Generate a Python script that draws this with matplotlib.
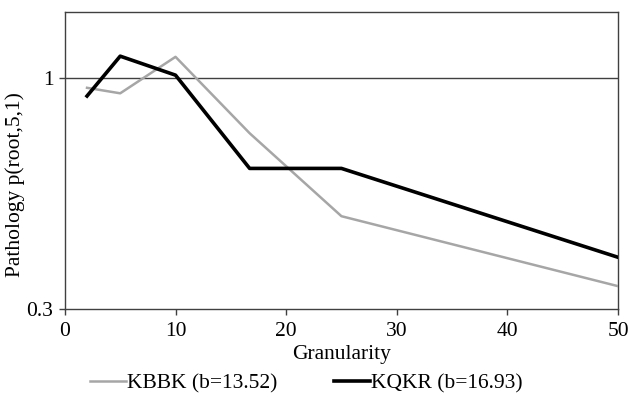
import matplotlib
matplotlib.use("Agg")
import matplotlib.pyplot as plt
from matplotlib.ticker import FixedLocator, NullLocator

plt.rcParams['font.family'] = ['Liberation Serif', 'DejaVu Serif']

granularity_kbbk = [2, 5, 10, 16.7, 25, 50]
kbbk = [0.952, 0.925, 1.119, 0.751, 0.487, 0.338]
granularity_kqkr = [2, 5, 10, 16.7, 25, 50]
kqkr = [0.912, 1.123, 1.017, 0.625, 0.625, 0.393]
x_ticks = [0, 10, 20, 30, 40, 50]
y_ticks = [0.3, 1]
y_tick_labels = ["0.3", "1"]

fig = plt.figure(figsize=(6.3, 4.05), dpi=100)
ax = fig.add_axes([0.103, 0.237, 0.878, 0.734])

ax.axhline(1, color='#404040', lw=1.0, zorder=1)
ax.plot(granularity_kbbk, kbbk, color='#a6a6a6', lw=1.8, label='KBBK (b=13.52)', zorder=3)
ax.plot(granularity_kqkr, kqkr, color='black', lw=2.6, label='KQKR (b=16.93)', zorder=4)

ax.set_yscale('log')
ax.set_ylim(0.3, 1.416)
ax.set_xlim(0, 50)
ax.yaxis.set_major_locator(FixedLocator(y_ticks))
ax.set_yticklabels(y_tick_labels)
ax.yaxis.set_minor_locator(NullLocator())
ax.set_xticks(x_ticks)

for s in ax.spines.values():
    s.set_color('#404040')
    s.set_linewidth(1.0)

ax.tick_params(axis='both', labelsize=15.5, direction='out', length=4.3, width=1, color='#404040')
ax.tick_params(axis='x', pad=5)
ax.tick_params(axis='y', pad=4)
ax.set_xlabel('Granularity', fontsize=15.5)
ax.xaxis.set_label_coords(0.5, -0.12)
ax.set_ylabel('Pathology p(root,5,1)', fontsize=15.5)
ax.yaxis.set_label_coords(-0.072, 0.42)

fig.legend(loc='center', bbox_to_anchor=(0.486, 0.054), ncol=2, frameon=False,
           fontsize=15.5, handlelength=1.7, handletextpad=0.05, columnspacing=2.6,
           borderpad=0, borderaxespad=0)

fig.savefig('out.png', dpi=100)
